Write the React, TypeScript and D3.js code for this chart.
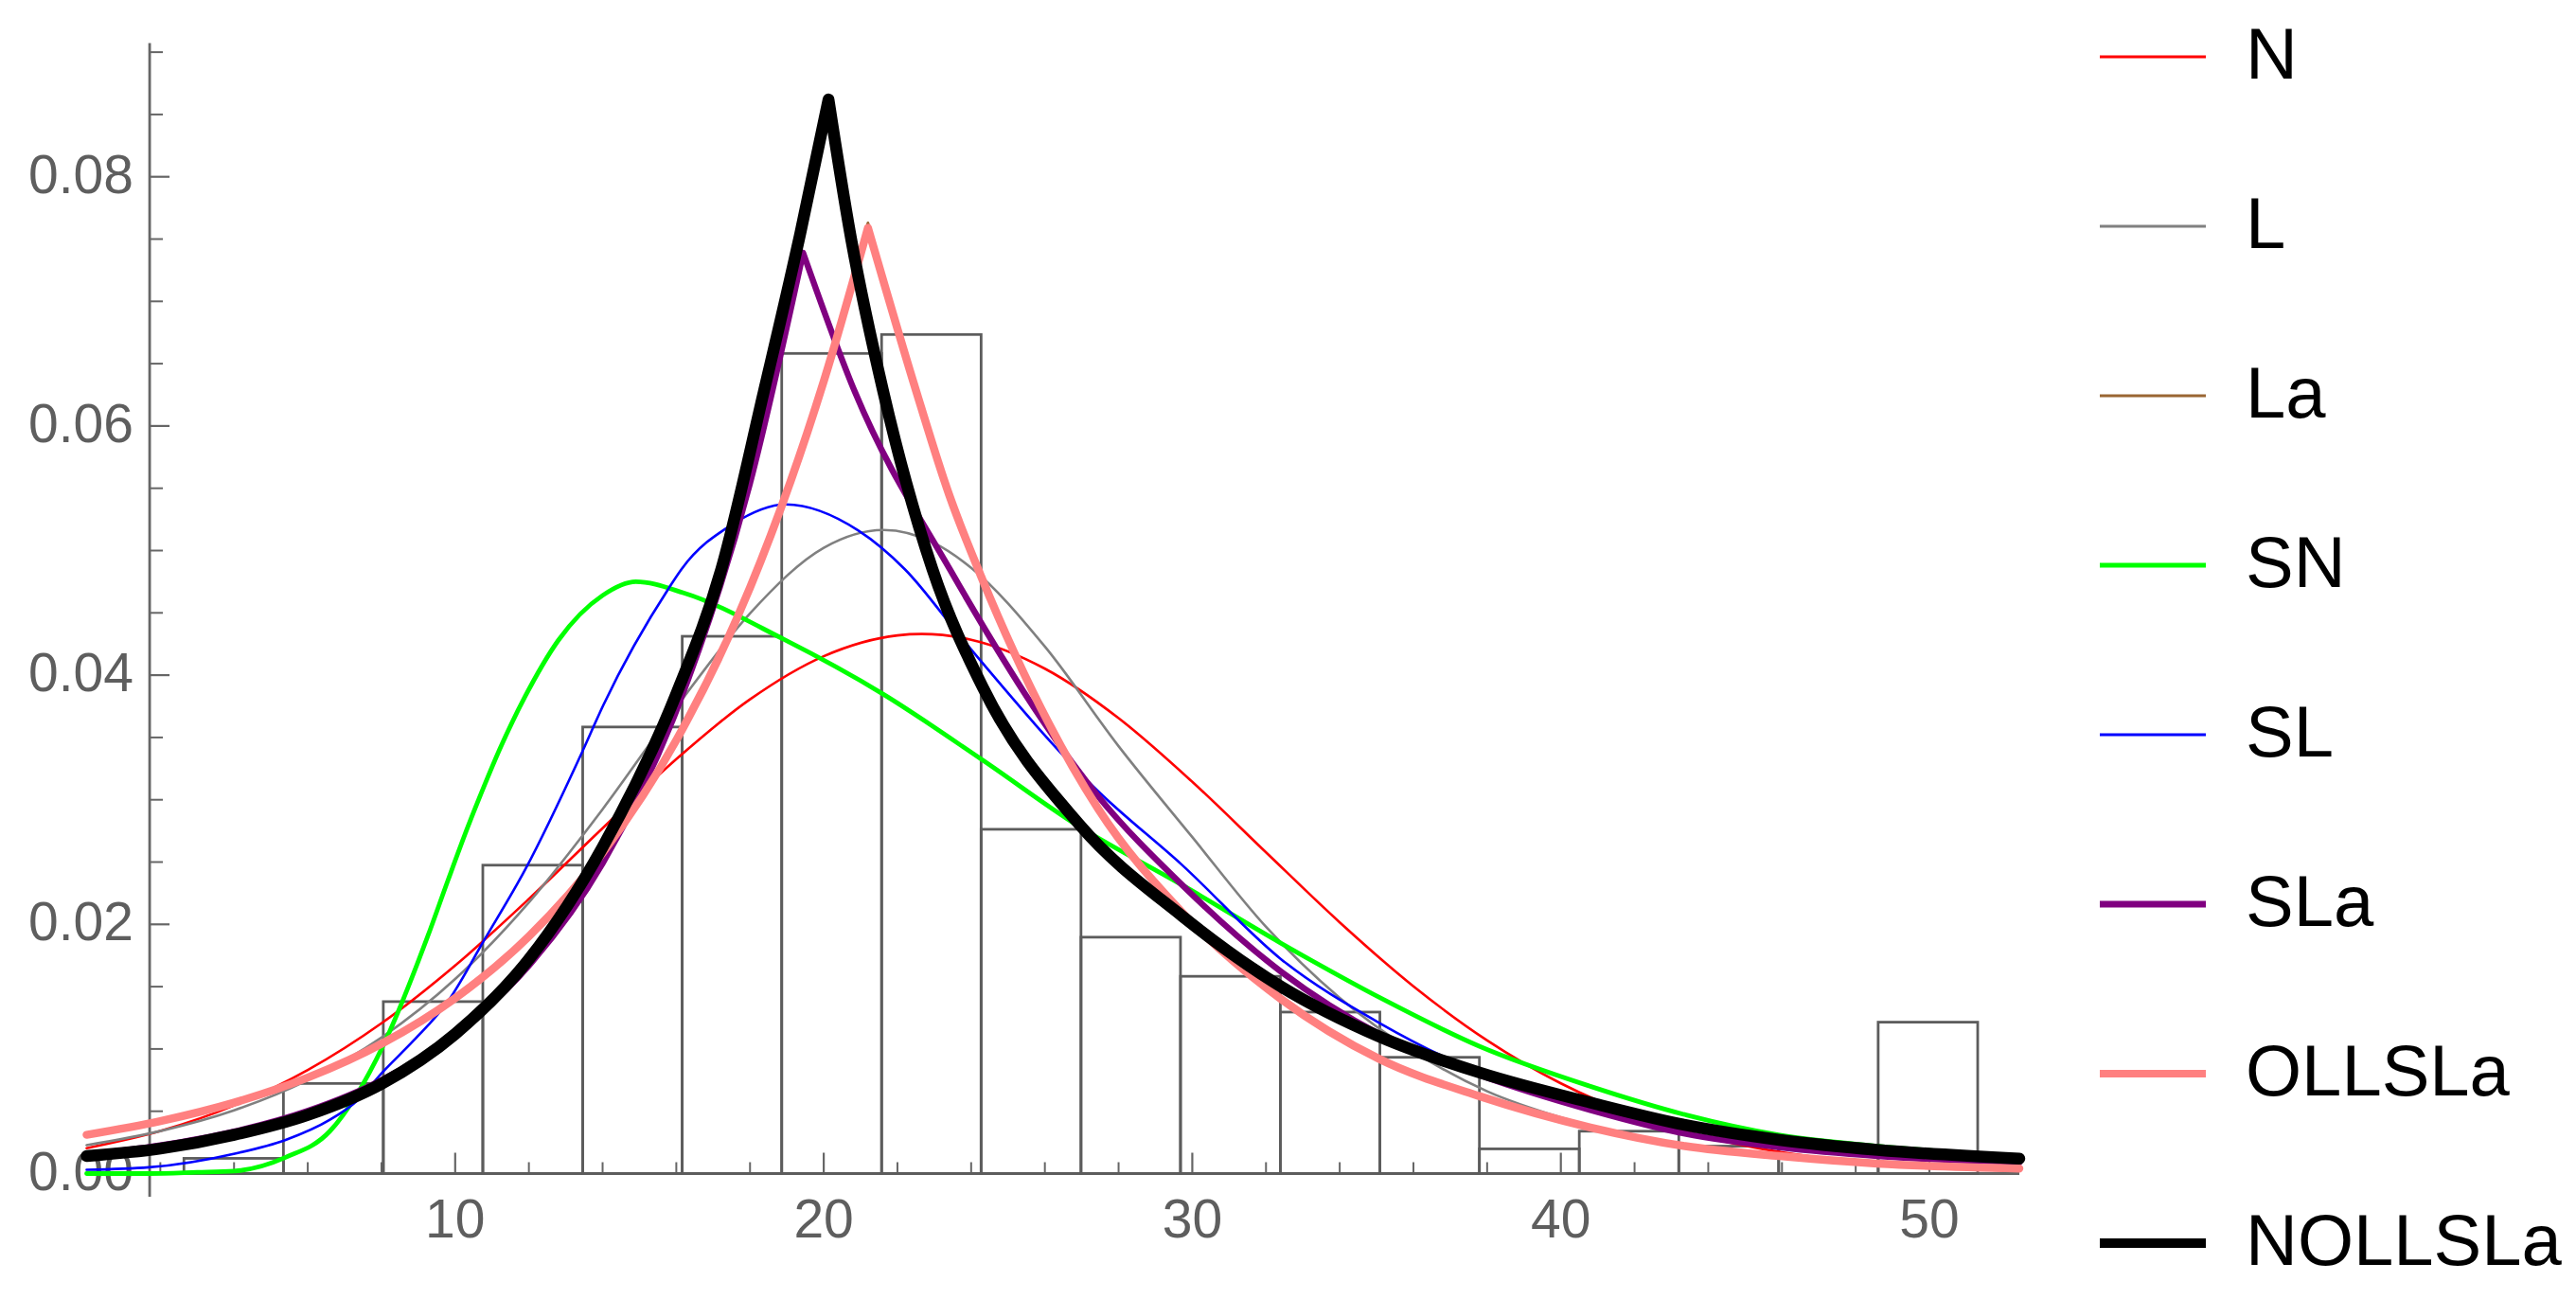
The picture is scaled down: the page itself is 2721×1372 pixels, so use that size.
import React, { useEffect } from "react";
import * as d3 from "d3";

const W = 2721;
const H = 1372;

// ---------- axes / ticks ----------
const xMajorTicks = [10, 20, 30, 40, 50];
const xMinorTicks = [2, 4, 6, 8, 12, 14, 16, 18, 22, 24, 26, 28, 32, 34, 36, 38, 42, 44, 46, 48, 52];
const yMajorTicks = [0, 0.02, 0.04, 0.06, 0.08];
const yTickLabels = ["0.00", "0.02", "0.04", "0.06", "0.08"];
const yMinorTicks = [0.005, 0.01, 0.015, 0.025, 0.03, 0.035, 0.045, 0.05, 0.055, 0.065, 0.07, 0.075, 0.085, 0.09];
const axisOriginX = 1.71;

// ---------- histogram ----------
const binEdges = [2.64, 5.34, 8.05, 10.75, 13.46, 16.16, 18.86, 21.57, 24.27, 26.98, 29.68, 32.39, 35.09, 37.79, 40.5, 43.2, 45.91, 48.61, 51.31];
const binHeights = [0.00122, 0.00723, 0.0138, 0.02475, 0.03584, 0.04312, 0.06582, 0.06734, 0.02763, 0.01897, 0.01583, 0.01296, 0.00933, 0.00198, 0.0034, 0.0022, 0.002, 0.01215];

// ---------- fitted densities ----------
const nPts: [number, number][] = [
  [0, 0.00204], [2, 0.00342], [4, 0.00546], [6, 0.00831], [8, 0.01206], [10, 0.0167], [12, 0.02204], [14, 0.02772],
  [16, 0.03326], [18, 0.03806], [20, 0.04152], [22, 0.04319], [22.66, 0.0433], [24, 0.04284], [26, 0.04052], [28, 0.03655],
  [30, 0.03144], [32, 0.02578], [34, 0.02016], [36, 0.01503], [38, 0.01069], [40, 0.00724], [42, 0.00468], [44, 0.00289],
  [46, 0.0017], [48, 0.00095], [50, 0.00051], [52, 0.00026], [52.44, 0.00022],
];

const lPts: [number, number][] = [
  [0, 0.00228], [2, 0.00341], [4, 0.00507], [6, 0.00749], [8, 0.01091], [10, 0.01561], [12, 0.02176], [14, 0.02924],
  [16, 0.03742], [18, 0.04496], [20, 0.05022], [21.62, 0.05165], [23, 0.0506], [24, 0.04862], [26, 0.0423], [28, 0.0343],
  [30, 0.027], [32, 0.0198], [34, 0.0141], [36, 0.0098], [38, 0.0066], [40, 0.0045], [42, 0.003], [44, 0.002],
  [46, 0.00135], [48, 0.0009], [50, 0.0006], [52.44, 0.00036],
];

const laLeft: [number, number][] = [
  [0, 0.00311], [2, 0.00421], [4, 0.00569], [6, 0.0077], [8, 0.01041], [10, 0.01408], [12, 0.01903], [14, 0.02573],
  [16, 0.03478], [18, 0.04702], [20, 0.06358], [21.2, 0.0763],
];
const laRight: [number, number][] = [
  [21.2, 0.0763], [22.57, 0.0622], [23.4, 0.0545], [24.26, 0.048], [27.44, 0.0293], [29.71, 0.021], [32.41, 0.014],
  [35.07, 0.0092], [37.8, 0.0062], [40.8, 0.0037], [43.37, 0.0022], [45.94, 0.0014], [48.59, 0.0008], [52.44, 0.0004],
];

const snPts: [number, number][] = [
  [0, 0], [1.7, 0], [3, 0.0001], [4, 0.0002], [5.4, 0.0013], [6.6, 0.0034], [7.3, 0.0062], [8.05, 0.0103], [9.25, 0.019],
  [9.8, 0.0235], [10.34, 0.0278], [10.8, 0.0312], [11.2, 0.034], [11.9, 0.0383], [12.8, 0.0428], [14, 0.0464], [14.9, 0.0475],
  [16.2, 0.0466], [18.9, 0.0429], [21.6, 0.0385], [24.3, 0.0332], [26.9, 0.0279], [29.7, 0.0232], [32.4, 0.0185],
  [35.1, 0.0141], [37.8, 0.0102], [40.8, 0.007], [43.4, 0.0047], [45.9, 0.0031], [48.6, 0.0022], [52.44, 0.0014],
];

const slPts: [number, number][] = [
  [0, 0.0003], [1.69, 0.0005], [4.02, 0.0016], [5.4, 0.0027], [6.59, 0.0043], [7.32, 0.0058], [8.05, 0.0082], [8.88, 0.0107],
  [9.8, 0.0138], [10.8, 0.0188], [11.9, 0.0244], [13.44, 0.0338], [14.02, 0.0376], [15.8, 0.047], [16.14, 0.0485],
  [17.52, 0.0521], [18.97, 0.0537], [20.94, 0.0516], [22.2, 0.0485], [23.76, 0.0429], [27.44, 0.0307], [29.71, 0.0248],
  [32.41, 0.0172], [35.07, 0.0121], [37.8, 0.0081], [40.8, 0.0053], [43.37, 0.0033], [45.94, 0.0021], [48.59, 0.0014],
  [52.44, 0.0008],
];

const slaLeft: [number, number][] = [
  [0, 0.00151], [2, 0.00226], [4, 0.00337], [6, 0.00503], [8, 0.0075], [10, 0.01119], [12, 0.01669], [14, 0.0249],
  [16, 0.03714], [18, 0.05541], [19.44, 0.0739],
];
const slaRight: [number, number][] = [
  [19.44, 0.0739], [20.85, 0.0627], [23.42, 0.0485], [27.44, 0.0303], [29.71, 0.0232], [32.41, 0.0162], [35.07, 0.0112],
  [37.8, 0.0079], [40.8, 0.0051], [43.37, 0.0032], [45.94, 0.0021], [48.59, 0.0014], [52.44, 0.0009],
];

const ollLeft: [number, number][] = [
  [0, 0.00311], [2, 0.00421], [4, 0.00569], [6, 0.0077], [8, 0.01041], [10, 0.01408], [12, 0.01903], [14, 0.02573],
  [16, 0.03478], [18, 0.04702], [20, 0.06358], [21.2, 0.0759],
];
const ollRight: [number, number][] = [
  [21.2, 0.0759], [22.57, 0.0622], [23.4, 0.0545], [24.26, 0.048], [27.44, 0.0293], [29.71, 0.021], [32.41, 0.014],
  [35.07, 0.0092], [37.8, 0.0062], [40.8, 0.0037], [43.37, 0.0022], [45.94, 0.0014], [48.59, 0.0008], [52.44, 0.0004],
];

const nollLeft: [number, number][] = [
  [0, 0.0014], [2, 0.002], [4, 0.0031], [6, 0.0047], [8, 0.0072], [10, 0.0112], [12, 0.0172], [14, 0.0262],
  [16, 0.0385], [17.22, 0.0485], [18.37, 0.0627], [19.36, 0.0754], [20.13, 0.0862],
];
const nollRight: [number, number][] = [
  [20.13, 0.0862], [20.72, 0.0754], [21.62, 0.0627], [22.95, 0.0485], [24.32, 0.039], [26.94, 0.028], [29.71, 0.0207],
  [32.41, 0.015], [35.07, 0.011], [37.8, 0.0081], [40.8, 0.0057], [43.37, 0.0039], [45.94, 0.0027], [48.59, 0.0019],
  [52.44, 0.0012],
];

const legendNames = ["N", "L", "La", "SN", "SL", "SLa", "OLLSLa", "NOLLSLa"];
const legendColors = ["#ff0000", "#808080", "#996633", "#00ff00", "#0000ff", "#800080", "#ff8080", "#000000"];
const plotWidths = [2.6, 2.6, 2.8, 4.8, 2.6, 6.5, 8.5, 12.5];
const legendWidths = [3, 3, 3, 5, 3, 7, 8, 10];

const xScale = d3.scaleLinear().domain([0, 52.44]).range([91.5, 2133]);
const yScale = d3.scaleLinear().domain([0, 0.09]).range([1239.5, 55.1]);

const AX = "#666666";
const FONT = "'Liberation Sans', Arial, sans-serif";

export default function App() {
  useEffect(() => {
    document.body.style.margin = "0";
    document.body.style.overflow = "hidden";
  }, []);

  const line = d3
    .line<[number, number]>()
    .x((d) => xScale(d[0]))
    .y((d) => yScale(d[1]))
    .curve(d3.curveMonotoneX);

  const cusp = (l: [number, number][], r: [number, number][]) =>
    (line(l) || "") + (line(r) || "").replace(/^M/, "L");

  const paths = [
    line(nPts),
    line(lPts),
    cusp(laLeft, laRight),
    line(snPts),
    line(slPts),
    cusp(slaLeft, slaRight),
    cusp(ollLeft, ollRight),
    cusp(nollLeft, nollRight),
  ];

  const x0 = xScale(axisOriginX);
  const y0 = yScale(0);

  return (
    <svg
      width={W}
      height={H}
      viewBox={`0 0 ${W} ${H}`}
      style={{ position: "absolute", left: 0, top: 0, display: "block", background: "#fff" }}
    >
      <rect x={0} y={0} width={W} height={H} fill="#ffffff" />
      {/* y tick labels */}
      {yMajorTicks.map((t, i) => (
        <text key={"yl" + i} x={141} y={yScale(t) + 17} textAnchor="end" fontFamily={FONT} fontSize={57} fill="#5e5e5e">
          {yTickLabels[i]}
        </text>
      ))}
      {/* x tick labels */}
      {xMajorTicks.map((t) => (
        <text key={"xl" + t} x={xScale(t)} y={1307} textAnchor="middle" fontFamily={FONT} fontSize={57} fill="#5e5e5e">
          {t}
        </text>
      ))}
      {/* axes */}
      <line x1={xScale(0)} x2={xScale(52.44)} y1={y0} y2={y0} stroke={AX} strokeWidth={2.8} />
      <line x1={x0} x2={x0} y1={45.5} y2={1264} stroke={AX} strokeWidth={2.8} />
      {xMajorTicks.map((t) => (
        <line key={"xM" + t} x1={xScale(t)} x2={xScale(t)} y1={y0} y2={y0 - 22} stroke={AX} strokeWidth={2.2} />
      ))}
      {xMinorTicks.map((t) => (
        <line key={"xm" + t} x1={xScale(t)} x2={xScale(t)} y1={y0} y2={y0 - 12} stroke={AX} strokeWidth={2} />
      ))}
      {yMajorTicks.map((t) => (
        <line key={"yM" + t} x1={x0} x2={x0 + 21} y1={yScale(t)} y2={yScale(t)} stroke={AX} strokeWidth={2.2} />
      ))}
      {yMinorTicks.map((t) => (
        <line key={"ym" + t} x1={x0} x2={x0 + 14} y1={yScale(t)} y2={yScale(t)} stroke={AX} strokeWidth={2} />
      ))}
      {/* histogram */}
      {binHeights.map((h, i) => (
        <rect
          key={"b" + i}
          x={xScale(binEdges[i])}
          y={yScale(h)}
          width={xScale(binEdges[i + 1]) - xScale(binEdges[i])}
          height={y0 - yScale(h)}
          fill="none"
          stroke="#5c5c5c"
          strokeWidth={2.8}
        />
      ))}
      {/* curves */}
      {paths.map((p, i) => (
        <path
          key={"c" + i}
          d={p || ""}
          fill="none"
          stroke={legendColors[i]}
          strokeWidth={plotWidths[i]}
          strokeLinejoin="round"
          strokeLinecap="round"
        />
      ))}
      {/* legend */}
      {legendNames.map((name, i) => {
        const ly = 60 + i * 179;
        return (
          <g key={"lg" + i}>
            <line x1={2218} x2={2330} y1={ly} y2={ly} stroke={legendColors[i]} strokeWidth={legendWidths[i]} />
            <text x={2372} y={ly + 23} fontFamily={FONT} fontSize={76} fill="#000">
              {name}
            </text>
          </g>
        );
      })}
    </svg>
  );
}
